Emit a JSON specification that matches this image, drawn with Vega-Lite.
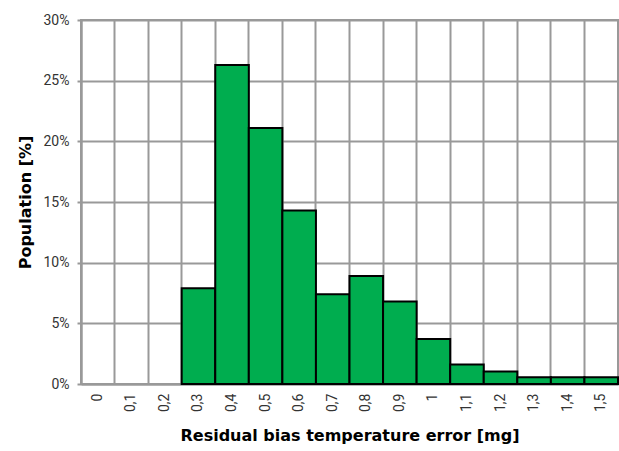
{
  "$schema": "https://vega.github.io/schema/vega-lite/v6.json",
  "width": 537,
  "height": 364,
  "autosize": "none",
  "padding": {"left": 81, "top": 20, "right": 1, "bottom": 67},
  "background": "white",
  "config": {
    "view": {"stroke": "#999999", "strokeWidth": 2},
    "axis": {"labelFont": "Liberation Sans Narrow, Roboto, sans-serif", "titleFont": "DejaVu Sans, sans-serif"}
  },
  "data": {
    "values": [
      {"bin": "0", "pop": 0},
      {"bin": "0,1", "pop": 0},
      {"bin": "0,2", "pop": 0},
      {"bin": "0,3", "pop": 0.079},
      {"bin": "0,4", "pop": 0.263},
      {"bin": "0,5", "pop": 0.211},
      {"bin": "0,6", "pop": 0.143},
      {"bin": "0,7", "pop": 0.074},
      {"bin": "0,8", "pop": 0.089},
      {"bin": "0,9", "pop": 0.068},
      {"bin": "1", "pop": 0.037},
      {"bin": "1,1", "pop": 0.016},
      {"bin": "1,2", "pop": 0.0104},
      {"bin": "1,3", "pop": 0.0055},
      {"bin": "1,4", "pop": 0.0055},
      {"bin": "1,5", "pop": 0.0055}
    ]
  },
  "mark": {"type": "bar", "fill": "#00AD4F", "stroke": "black", "strokeWidth": 2},
  "encoding": {
    "x": {
      "field": "bin",
      "type": "ordinal",
      "sort": null,
      "scale": {"paddingInner": 0, "paddingOuter": 0},
      "axis": {
        "title": "Residual bias temperature error [mg]",
        "titleFontSize": 16,
        "titleFontWeight": "bold",
        "titleColor": "black",
        "titlePadding": 16,
        "labelAngle": -90,
        "labelFontSize": 14,
        "labelColor": "#333333",
        "labelPadding": 9,
        "bandPosition": 0,
        "ticks": false,
        "grid": true,
        "gridColor": "#999999",
        "gridWidth": 2,
        "domainColor": "#999999",
        "domainWidth": 2
      }
    },
    "y": {
      "field": "pop",
      "type": "quantitative",
      "scale": {"domain": [0, 0.3], "nice": false},
      "axis": {
        "title": "Population [%]",
        "titleFontSize": 16,
        "titleFontWeight": "bold",
        "titleColor": "black",
        "titlePadding": 10,
        "values": [0, 0.05, 0.1, 0.15, 0.2, 0.25, 0.3],
        "format": ".0%",
        "labelFontSize": 14,
        "labelColor": "#333333",
        "labelPadding": 8,
        "tickSize": 4,
        "tickColor": "#999999",
        "tickWidth": 2,
        "grid": true,
        "gridColor": "#999999",
        "gridWidth": 2,
        "domainColor": "#999999",
        "domainWidth": 2
      }
    },
    "strokeOpacity": {
      "condition": {"test": "datum.pop > 0", "value": 1},
      "value": 0
    }
  }
}
